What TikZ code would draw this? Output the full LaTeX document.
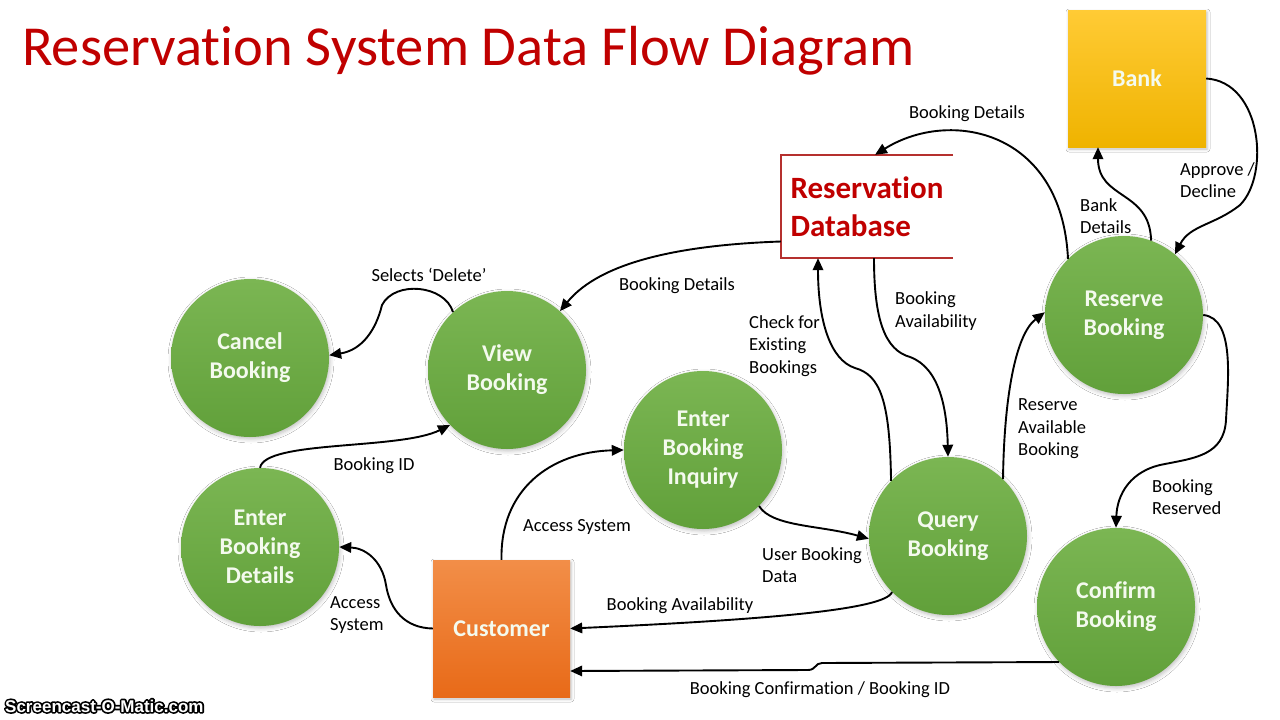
\documentclass[tikz,border=0pt]{standalone}
\usepackage{fontspec}
\setmainfont{Carlito}[Ligatures=NoCommon]
\newfontfamily\wmfont{Liberation Sans}
\usetikzlibrary{arrows.meta,shadows.blur}
\definecolor{gtop}{HTML}{7BB653}
\definecolor{gbot}{HTML}{61A03A}
\definecolor{gtext}{HTML}{F4FAEE}
\definecolor{bktop}{HTML}{FFCB35}
\definecolor{bkbot}{HTML}{EFB300}
\definecolor{cutop}{HTML}{F28E48}
\definecolor{cubot}{HTML}{E86A18}
\definecolor{ttlred}{HTML}{C00000}
\definecolor{dbred}{HTML}{B5302E}
\tikzset{
  ttl/.style={font=\fontsize{56.5}{60}\selectfont, text=ttlred, inner sep=0pt},
  proc/.style={circle, minimum size=158pt, inner sep=0pt, top color=gtop, bottom color=gbot,
    text=gtext, font=\bfseries\fontsize{24}{29}\selectfont, align=center,
    blur shadow={shadow xshift=1pt, shadow yshift=-2pt, shadow blur radius=4pt, shadow opacity=25}},
  boxent/.style={rectangle, inner sep=0pt, text=gtext, font=\bfseries\fontsize{24}{29}\selectfont,
    blur shadow={shadow xshift=1pt, shadow yshift=-2pt, shadow blur radius=3pt, shadow opacity=25}},
  dbstyle/.style={rectangle, fill=white, inner xsep=9pt, inner ysep=0pt, minimum width=172pt,
    minimum height=103pt, align=left, text=ttlred, font=\bfseries\fontsize{31}{38}\selectfont},
  dbline/.style={draw=dbred, line width=1.8pt},
  flow/.style={line width=1.9pt, -{Triangle[length=12pt,width=10.5pt]}},
  lbl/.style={font=\fontsize{18.5}{22.5}\selectfont, inner sep=0pt, align=left, yshift=-2pt},
  wm/.style={font=\wmfont\bfseries\fontsize{17}{19}\selectfont, inner sep=0pt, anchor=base west}
}
\begin{document}
\begin{tikzpicture}[x=1pt,y=-1pt]
\useasboundingbox[fill=white] (0,0) rectangle (1280,720);
\node[ttl, anchor=base west] (title) at (22,65) {Reservation System Data Flow Diagram};

% entities
\node[boxent, top color=bktop, bottom color=bkbot, minimum width=138pt, minimum height=137pt] (bank) at (1137,78.5) {Bank};
\node[boxent, top color=cutop, bottom color=cubot, minimum width=137pt, minimum height=137pt] (cust) at (501.5,628.5) {Customer};

% data store
\node[dbstyle] (db) at (867,206.5) {Reservation\\Database};
\draw[dbline] (db.north east) -- (db.north west) -- (db.south west) -- (db.south east);

% processes
\node[proc] (cb) at (250,358) {Cancel\\Booking};
\node[proc] (vb) at (507,370) {View\\Booking};
\node[proc] (ebi) at (703,450) {Enter\\Booking\\Inquiry};
\node[proc] (ebd) at (260,547) {Enter\\Booking\\Details};
\node[proc] (qb) at (948,536) {Query\\Booking};
\node[proc] (rb) at (1124,315) {Reserve\\Booking};
\node[proc] (cfb) at (1116,607) {Confirm\\Booking};

% flows
\draw[flow] (rb.135) .. controls (1062,130) and (950,108) .. ([xshift=8pt]db.north);
\draw[flow] (rb.70) .. controls (1150,190) and (1098,200) .. ([xshift=-39pt]bank.south);
\draw[flow] (bank.east) .. controls (1262,82) and (1270,175) .. (1240,205) .. controls (1215,225) and (1190,225) .. (rb.50);
\draw[flow] ([yshift=-35pt]db.west) .. controls (680,245) and (600,262) .. (vb.48);
\draw[flow] (vb.133) .. controls (445,285) and (395,280) .. (382,305) .. controls (376,330) and (362,350) .. (cb.2);
\draw[flow] (ebd.north) .. controls (265,440) and (400,450) .. (vb.224);
\draw[flow] (cust.west) .. controls (405,628) and (390,610) .. (386,585) .. controls (382,560) and (365,548) .. (ebd.east);
\draw[flow] (cust.north) .. controls (500,490) and (550,452) .. (ebi.west);
\draw[flow] (ebi.-45) .. controls (772,527) and (820,525) .. (qb.182);
\draw[flow] (qb.225) .. controls (886,610) and (760,620) .. (cust.east);
\draw[flow] (cfb.224) -- (822,663) .. controls (815,663) and (816,670) .. (808,670) -- ([yshift=-42.5pt]cust.east);
\draw[flow] (qb.136) .. controls (890,400) and (880,375) .. (855,368) .. controls (830,360) and (818,320) .. ([xshift=-49pt]db.south);
\draw[flow] ([xshift=7pt]db.south) .. controls (874,320) and (885,350) .. (910,357) .. controls (940,368) and (947,410) .. (qb.north);
\draw[flow] (qb.46) .. controls (1004,400) and (1015,335) .. (rb.178);
\draw[flow] (rb.east) .. controls (1235,318) and (1228,380) .. (1226,420) .. controls (1224,455) and (1195,458) .. (1165,464) .. controls (1130,470) and (1117,495) .. (cfb.north);

% labels
\node[lbl] (l1) at (967,112) {Booking Details};
\node[lbl, anchor=west] (l2) at (1080,214) {Bank\\Details};
\node[lbl, anchor=west] (l3) at (1180,178) {Approve /\\Decline};
\node[lbl] (l4) at (677,284) {Booking Details};
\node[lbl] (l5) at (429,273) {Selects ‘Delete’};
\node[lbl] (l6) at (374,464) {Booking ID};
\node[lbl, anchor=west] (l7) at (330,613) {Access\\System};
\node[lbl] (l8) at (577,525) {Access System};
\node[lbl, anchor=west] (l9) at (762,563) {User Booking\\Data};
\node[lbl] (l10) at (680,604) {Booking Availability};
\node[lbl] (l11) at (820,688) {Booking Confirmation / Booking ID};
\node[lbl, anchor=west] (l12) at (749,344) {Check for\\Existing\\Bookings};
\node[lbl, anchor=west] (l13) at (895,309) {Booking\\Availability};
\node[lbl, anchor=west] (l14) at (1018,427) {Reserve\\Available\\Booking};
\node[lbl, anchor=west] (l15) at (1152,495) {Booking\\Reserved};

% watermark: black stroked layer under white text
\node[wm, text=black] (wmback) at (5,712) {\special{pdf:literal direct 2 Tr 3.4 w 1 j 0 G}Screencast-O-Matic.com\special{pdf:literal direct 0 Tr}};
\node[wm, text=white] (wm) at (5,712) {Screencast-O-Matic.com};
\end{tikzpicture}
\end{document}
